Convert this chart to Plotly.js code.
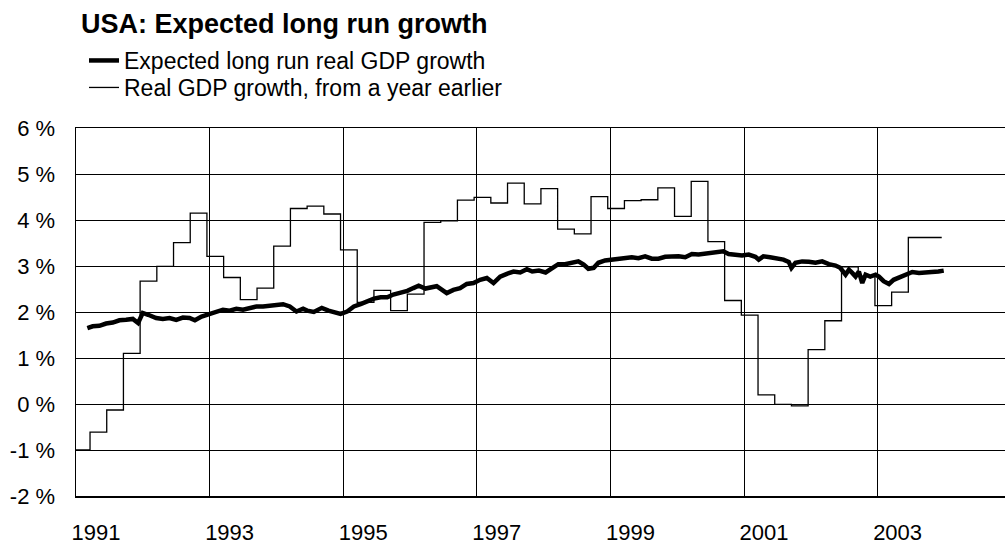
<!DOCTYPE html>
<html>
<head>
<meta charset="utf-8">
<script src="https://cdn.plot.ly/plotly-3.0.1.min.js"></script>
<style>html,body{margin:0;padding:0;background:#fff;}#chart{width:1005px;height:550px;}</style>
</head>
<body>
<div id="chart"></div>
<script>
// Expected long run real GDP growth (decimal year, %)
const expX = [1991.17,1991.25,1991.35,1991.45,1991.55,1991.65,1991.75,1991.85,1991.93,1992.00,1992.08,1992.20,1992.30,1992.40,1992.50,1992.60,1992.70,1992.78,1992.88,1993.00,1993.10,1993.20,1993.30,1993.40,1993.50,1993.60,1993.70,1993.80,1993.90,1994.00,1994.10,1994.20,1994.30,1994.40,1994.46,1994.56,1994.68,1994.78,1994.86,1994.96,1995.06,1995.16,1995.26,1995.36,1995.46,1995.56,1995.66,1995.75,1995.86,1995.96,1996.05,1996.13,1996.23,1996.33,1996.40,1996.48,1996.55,1996.65,1996.75,1996.85,1996.95,1997.05,1997.15,1997.25,1997.35,1997.45,1997.55,1997.65,1997.75,1997.83,1997.93,1998.03,1998.13,1998.22,1998.32,1998.42,1998.52,1998.60,1998.67,1998.75,1998.82,1998.92,1999.02,1999.12,1999.22,1999.32,1999.42,1999.52,1999.62,1999.72,1999.82,1999.92,2000.02,2000.12,2000.22,2000.32,2000.42,2000.52,2000.62,2000.69,2000.77,2000.87,2000.97,2001.07,2001.17,2001.22,2001.29,2001.39,2001.49,2001.59,2001.67,2001.71,2001.77,2001.87,2001.97,2002.07,2002.17,2002.27,2002.37,2002.44,2002.52,2002.57,2002.62,2002.67,2002.72,2002.77,2002.82,2002.89,2002.97,2003.02,2003.09,2003.17,2003.24,2003.32,2003.42,2003.52,2003.62,2003.72,2003.81,2003.91,2003.99];
const expY = [1.65,1.69,1.70,1.75,1.77,1.82,1.83,1.85,1.76,1.98,1.94,1.87,1.85,1.87,1.83,1.88,1.87,1.82,1.90,1.96,1.99,2.05,2.03,2.07,2.05,2.09,2.12,2.12,2.14,2.16,2.17,2.12,2.01,2.07,2.03,2.00,2.09,2.03,2.00,1.96,2.01,2.12,2.17,2.23,2.29,2.32,2.32,2.38,2.41,2.46,2.52,2.57,2.51,2.53,2.56,2.48,2.41,2.48,2.52,2.61,2.63,2.70,2.74,2.63,2.77,2.83,2.88,2.86,2.93,2.88,2.90,2.86,2.97,3.04,3.04,3.07,3.10,3.03,2.94,2.96,3.07,3.12,3.14,3.15,3.17,3.19,3.17,3.21,3.16,3.16,3.20,3.21,3.21,3.19,3.26,3.25,3.27,3.28,3.30,3.32,3.26,3.25,3.23,3.25,3.20,3.14,3.21,3.19,3.16,3.14,3.09,2.96,3.07,3.10,3.09,3.07,3.10,3.04,3.01,2.96,2.81,2.92,2.85,2.77,2.88,2.63,2.81,2.77,2.81,2.77,2.67,2.61,2.70,2.75,2.83,2.87,2.85,2.87,2.87,2.88,2.90];

// Real GDP growth from a year earlier (quarterly steps, decimal year, %)
const gdpX = [1991.00,1991.21,1991.46,1991.71,1991.96,1992.21,1992.46,1992.71,1992.96,1993.21,1993.46,1993.71,1993.96,1994.21,1994.46,1994.71,1994.96,1995.21,1995.46,1995.71,1995.96,1996.21,1996.46,1996.71,1996.96,1997.21,1997.46,1997.71,1997.96,1998.21,1998.46,1998.71,1998.96,1999.21,1999.46,1999.71,1999.96,2000.21,2000.46,2000.71,2000.96,2001.21,2001.46,2001.71,2001.96,2002.21,2002.46,2002.71,2002.96,2003.21,2003.46,2003.71,2003.96];
const gdpY = [-1.00,-0.61,-0.13,1.10,2.67,2.99,3.51,4.15,3.21,2.75,2.27,2.52,3.43,4.25,4.30,4.13,3.35,2.21,2.47,2.03,2.39,3.95,3.98,4.43,4.49,4.37,4.80,4.35,4.68,3.80,3.70,4.51,4.25,4.42,4.44,4.70,4.08,4.84,3.53,2.25,1.93,0.20,-0.01,-0.04,1.18,1.81,2.98,2.78,2.14,2.43,3.62,3.62,3.62];

const seriesNames = ["Expected long run real GDP growth", "Real GDP growth, from a year earlier"];
const yearTicks = [1991,1993,1995,1997,1999,2001,2003];
const yearLabels = ["1991","1993","1995","1997","1999","2001","2003"];
const pctTicks = [-2,-1,0,1,2,3,4,5,6];
const pctLabels = ["-2 %","-1 %","0 %","1 %","2 %","3 %","4 %","5 %","6 %"];
const chartTitle = "USA: Expected long run growth";

const FONT = "Liberation Sans, Arial, Helvetica, sans-serif";

const traces = [
  {x: expX, y: expY, name: seriesNames[0], type: "scatter", mode: "lines", legend: "legend",
   line: {color: "#000", width: 4.5}},
  {x: gdpX, y: gdpY, name: seriesNames[1], type: "scatter", mode: "lines", legend: "legend2",
   line: {color: "#000", width: 1.3, shape: "hv"}}
];

const legendBase = {xref: "container", x: 84/1005, xanchor: "left", yref: "container", yanchor: "top",
  bgcolor: "rgba(0,0,0,0)", borderwidth: 0, font: {family: FONT, size: 23, color: "#000"}};

const layout = {
  width: 1005, height: 550,
  margin: {l: 76, r: 0, t: 128, b: 54, pad: 0, autoexpand: false},
  paper_bgcolor: "#fff", plot_bgcolor: "#fff",
  font: {family: FONT, color: "#000", size: 22},
  title: {text: "<b>" + chartTitle + "</b>", font: {family: FONT, size: 27, color: "#000"},
          xref: "container", x: 81/1005, xanchor: "left",
          yref: "container", y: 1 - 14/550, yanchor: "top"},
  showlegend: true,
  legend: Object.assign({}, legendBase, {y: 1 - 39/550}),
  legend2: Object.assign({}, legendBase, {y: 1 - 66/550}),
  xaxis: {range: [1991, 1991 + 929/66.8], tickmode: "array", tickvals: yearTicks, ticktext: yearLabels,
          showgrid: true, gridcolor: "#000", gridwidth: 1, zeroline: false,
          showline: true, linecolor: "#000", linewidth: 1.5, mirror: true,
          ticks: "", ticklabelshift: 20, ticklabelstandoff: 16,
          tickfont: {family: FONT, size: 22, color: "#000"}},
  yaxis: {range: [-2, 6], tickmode: "array", tickvals: pctTicks, ticktext: pctLabels,
          showgrid: true, gridcolor: "#000", gridwidth: 1, zeroline: false,
          showline: true, linecolor: "#000", linewidth: 1.5,
          ticks: "", ticklabelstandoff: 15,
          tickfont: {family: FONT, size: 22, color: "#000"}}
};

Plotly.newPlot("chart", traces, layout, {displayModeBar: false, staticPlot: true});
</script>
</body>
</html>
